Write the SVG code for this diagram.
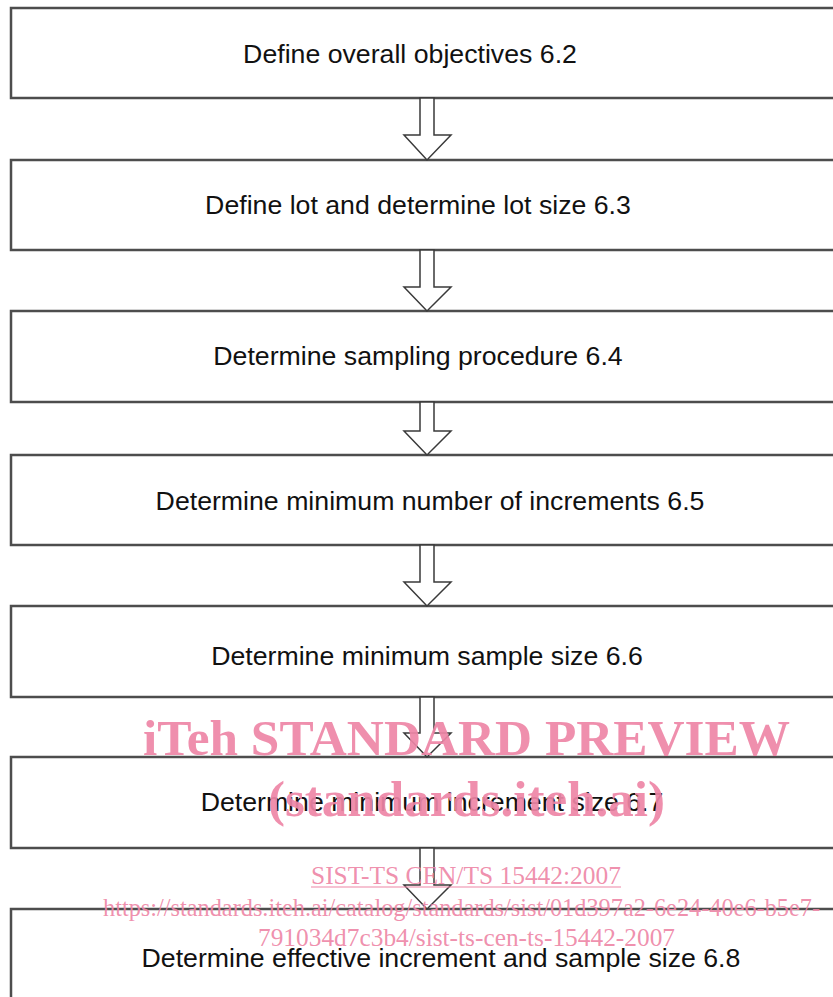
<svg xmlns="http://www.w3.org/2000/svg" width="833" height="997" viewBox="0 0 833 997">
<style>
.box{fill:#ffffff;stroke:#4d4d4d;stroke-width:2.5}
.lbl{font-family:"Liberation Sans",Arial,sans-serif;font-size:26.7px;fill:#111111;text-anchor:middle}
.arr{fill:#ffffff;stroke:#3a3a3a;stroke-width:1.5;stroke-linejoin:miter}
.wm{font-family:"Liberation Serif","Times New Roman",serif;fill:#ee86a6;fill-opacity:0.92}
.wmb{font-weight:bold;font-size:51px}
.wms{font-size:25px}
</style>
<rect width="833" height="997" fill="#ffffff"/>
<g id="n1"><rect class="box" x="11" y="8" width="840" height="90"/><text class="lbl" x="410" y="63">Define overall objectives 6.2</text></g>
<g id="n2"><rect class="box" x="11" y="160" width="840" height="90"/><text class="lbl" x="418" y="214">Define lot and determine lot size 6.3</text></g>
<g id="n3"><rect class="box" x="11" y="311" width="840" height="91"/><text class="lbl" x="418" y="365">Determine sampling procedure 6.4</text></g>
<g id="n4"><rect class="box" x="11" y="455" width="840" height="90"/><text class="lbl" x="430" y="510">Determine minimum number of increments 6.5</text></g>
<g id="n5"><rect class="box" x="11" y="606" width="840" height="91"/><text class="lbl" x="427" y="665">Determine minimum sample size 6.6</text></g>
<g id="n6"><rect class="box" x="11" y="757" width="840" height="91"/><text class="lbl" x="432" y="811">Determine minimum increment size 6.7</text></g>
<g id="n7"><rect class="box" x="11" y="909" width="840" height="100"/><text class="lbl" x="441" y="967">Determine effective increment and sample size 6.8</text></g>
<g id="connectors">
<polygon class="arr" points="420,98 434,98 434,135 451,135 427,160 404,135 420,135"/>
<polygon class="arr" points="420,250 434,250 434,287 451,287 427,311 404,287 420,287"/>
<polygon class="arr" points="420,402 434,402 434,431 451,431 427,455 404,431 420,431"/>
<polygon class="arr" points="420,545 434,545 434,582 451,582 427,606 404,582 420,582"/>
<polygon class="arr" points="420,697 434,697 434,733 451,733 427,757 404,733 420,733"/>
<polygon class="arr" points="420,848 434,848 434,885 451,885 427,909 404,885 420,885"/>
</g>
<g id="watermark">
<text class="wm wmb" x="143" y="755" textLength="647" lengthAdjust="spacingAndGlyphs">iTeh STANDARD PREVIEW</text>
<text class="wm wmb" x="268" y="816" textLength="397" lengthAdjust="spacingAndGlyphs">(standards.iteh.ai)</text>
<text class="wm wms" x="311" y="884" textLength="310" lengthAdjust="spacingAndGlyphs">SIST-TS CEN/TS 15442:2007</text>
<line x1="311" y1="887" x2="621" y2="887" stroke="#ee86a6" stroke-width="1.2"/>
<text class="wm wms" x="103" y="916" textLength="717" lengthAdjust="spacingAndGlyphs">https://standards.iteh.ai/catalog/standards/sist/01d397a2-6e24-40e6-b5e7-</text>
<text class="wm wms" x="258" y="946" textLength="417" lengthAdjust="spacingAndGlyphs">791034d7c3b4/sist-ts-cen-ts-15442-2007</text>
</g>
</svg>
